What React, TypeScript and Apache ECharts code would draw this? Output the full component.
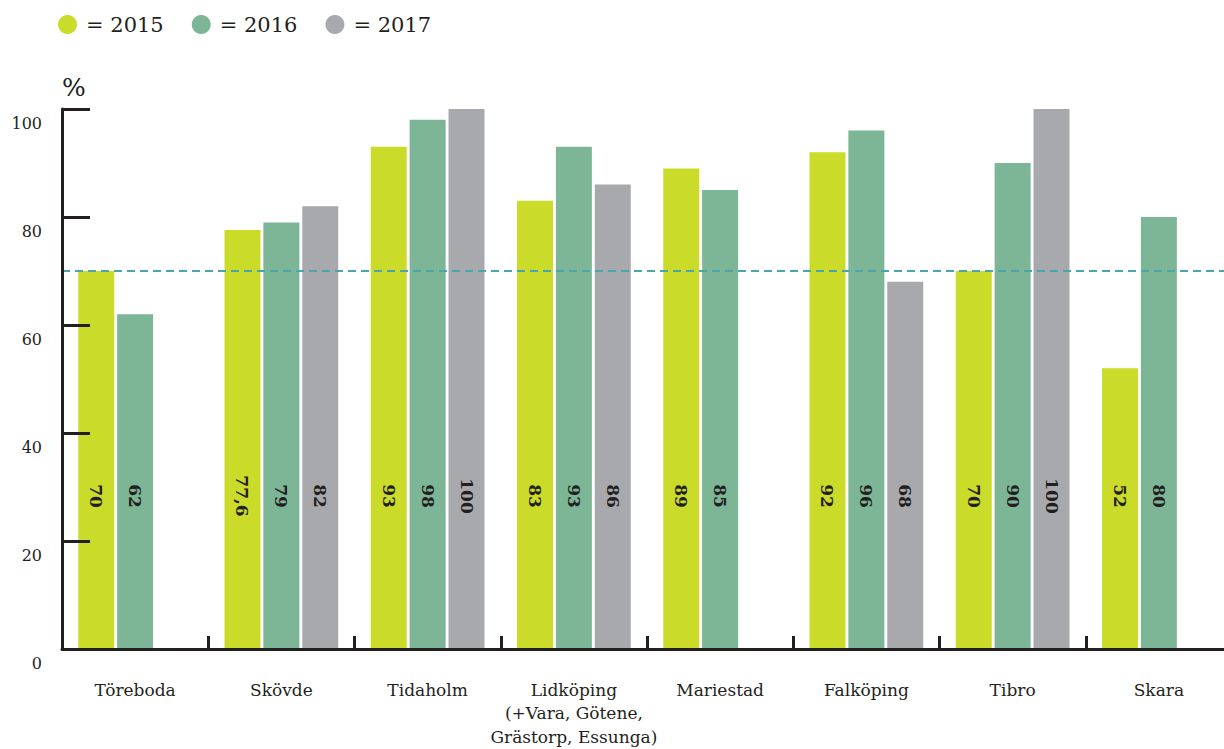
import React, { useEffect, useRef } from "react";
import * as echarts from "echarts";

const categories = [
  "Töreboda",
  "Skövde",
  "Tidaholm",
  "Lidköping\n(+Vara, Götene,\nGrästorp, Essunga)",
  "Mariestad",
  "Falköping",
  "Tibro",
  "Skara",
];
const years = ["2015", "2016", "2017"];
const values2015 = [70, 77.6, 93, 83, 89, 92, 70, 52];
const values2016 = [62, 79, 98, 93, 85, 96, 90, 80];
const values2017 = [null, 82, 100, 86, null, 68, 100, null];
const referenceLine = 70;
const yTicks = { min: 0, max: 100, interval: 20 };

const colors = ["#cbdb2a", "#7db696", "#a8a9ad"];
const ink = "#231f20";
const font = "Georgia, 'DejaVu Serif', serif";

export default function App() {
  const ref = useRef<HTMLDivElement>(null);
  useEffect(() => {
    if (!ref.current) return;
    const chart = echarts.init(ref.current, undefined, { renderer: "svg" });
    const label = {
      show: true,
      position: "insideBottom",
      distance: 153,
      rotate: -90,
      align: "center",
      verticalAlign: "middle",
      fontFamily: font,
      fontWeight: "bold",
      fontSize: 17,
      color: ink,
      formatter: (p: any) => String(p.value).replace(".", ","),
    };
    const series = [values2015, values2016, values2017].map((d, i) => ({
      name: years[i],
      type: "bar",
      data: d,
      barWidth: 36,
      barGap: "8%",
      itemStyle: { color: colors[i] },
      label,
      markLine:
        i === 0
          ? {
              silent: true,
              symbol: ["none", "none"],
              label: { show: false },
              lineStyle: { color: "#4aa5ad", type: [8, 5], width: 2 },
              data: [{ yAxis: referenceLine }],
            }
          : undefined,
    }));
    chart.setOption({
      animation: false,
      color: colors,
      legend: {
        left: 58,
        top: 14,
        padding: 0,
        icon: "circle",
        itemWidth: 19,
        itemHeight: 19,
        itemGap: 28,
        data: years,
        formatter: "= {name}",
        textStyle: {
          fontFamily: font,
          fontSize: 21,
          color: ink,
          padding: [0, 0, 0, 4],
        },
      },
      grid: {
        left: 62,
        width: 1170,
        top: 109,
        bottom: 100,
        containLabel: false,
        outerBoundsMode: "none",
      },
      xAxis: {
        type: "category",
        data: categories,
        z: 10,
        axisLine: { show: true, lineStyle: { color: ink, width: 3 } },
        axisTick: {
          show: true,
          interval: 0,
          alignWithLabel: false,
          inside: true,
          length: 13,
          lineStyle: { color: ink, width: 3 },
        },
        axisLabel: {
          interval: 0,
          margin: 29,
          fontFamily: font,
          fontSize: 17,
          lineHeight: 23.5,
          color: ink,
        },
      },
      yAxis: {
        type: "value",
        min: yTicks.min,
        max: yTicks.max,
        interval: yTicks.interval,
        z: 10,
        name: "%",
        nameLocation: "end",
        nameGap: 22,
        nameTextStyle: {
          fontFamily: font,
          fontSize: 25,
          color: ink,
          align: "left",
          verticalAlign: "middle",
        },
        axisLine: { show: true, lineStyle: { color: ink, width: 3 } },
        axisTick: { show: true, inside: true, length: 28, lineStyle: { color: ink, width: 3 } },
        splitLine: { show: false },
        axisLabel: {
          margin: 20,
          fontFamily: font,
          fontSize: 16,
          color: ink,
          verticalAlign: "top",
          padding: [6, 0, 0, 0],
        },
      },
      series,
    });
    return () => chart.dispose();
  }, []);
  return (
    <div
      ref={ref}
      style={{ position: "absolute", left: 0, top: 0, width: 1224, height: 749, background: "#fff", overflow: "hidden" }}
    />
  );
}
